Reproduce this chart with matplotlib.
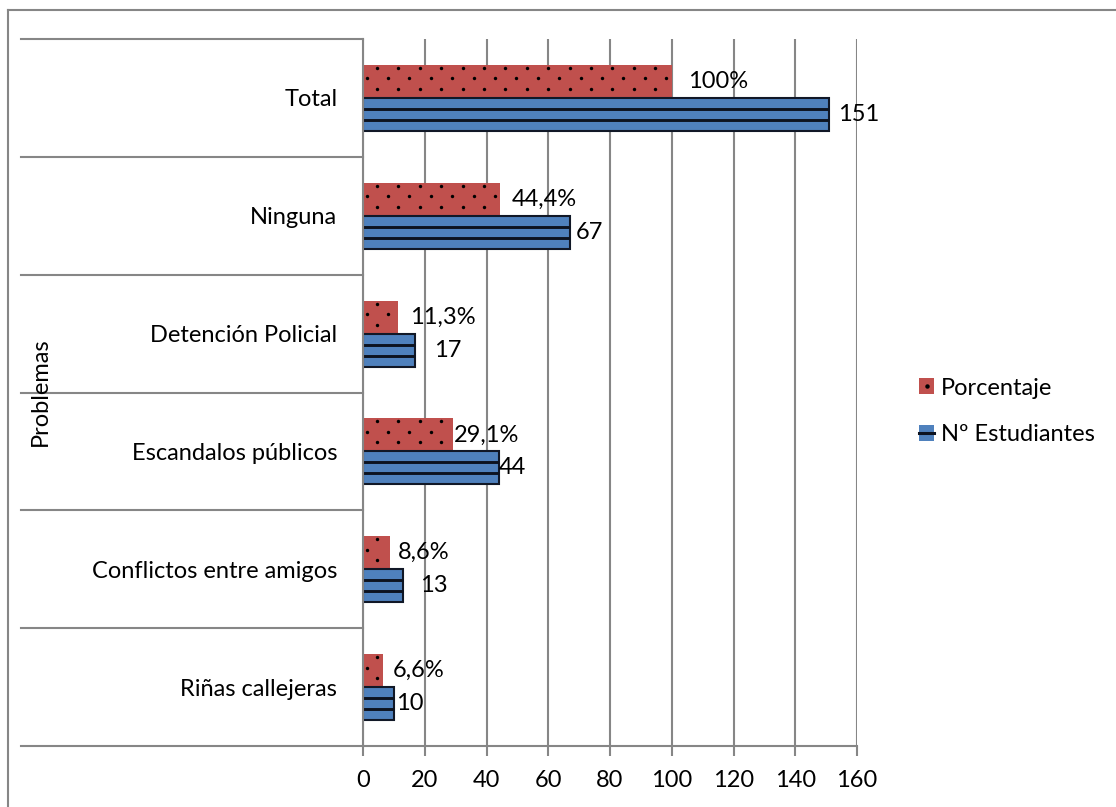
import numpy as np
import matplotlib
matplotlib.use("Agg")
import matplotlib.pyplot as plt
import matplotlib.transforms as mtransforms
from matplotlib.lines import Line2D
from matplotlib.patches import Patch
from matplotlib.legend_handler import HandlerTuple

# ---- data ----
categories = ["Riñas callejeras", "Conflictos entre amigos", "Escandalos públicos",
              "Detención Policial", "Ninguna", "Total"]
porcentaje = [6.6, 8.6, 29.1, 11.3, 44.4, 100]
estudiantes = [10, 13, 44, 17, 67, 151]
x_ticks = [0, 20, 40, 60, 80, 100, 120, 140, 160]
series_names = ["Porcentaje", "Nº Estudiantes"]
axis_title = "Problemas"

# small horizontal nudges (points) for the value labels
pct_nudge = [6.5, 5.8, 0.7, 8.6, 8.6, 11.5]
est_nudge = [1.4, 12.2, 0.0, 13.0, 4.3, 6.5]

RED = "#C0504D"
BLUE = "#4F81BD"
GRAY = "#868686"
STRIPE = "#0d1320"
FONT = ["Lato", "DejaVu Sans"]
FS = 17

plt.rcParams["font.family"] = FONT

W, H = 1116, 807
fig = plt.figure(figsize=(W / 100, H / 100), dpi=100)
ax_l, ax_r, ax_t, ax_b = 363, 857, 39, 746
ax = fig.add_axes([ax_l / W, 1 - ax_b / H, (ax_r - ax_l) / W, (ax_b - ax_t) / H])

n = len(categories)
yc = np.arange(n) + 0.5
h = 0.28

ax.set_xlim(0, 160)
ax.set_ylim(0, n)

# bars
ax.barh(yc + h / 2, porcentaje, height=h, color=RED, linewidth=0, zorder=2)
ax.barh(yc - h / 2, estudiantes, height=h, color=BLUE, edgecolor="#111827",
        linewidth=1.5, zorder=2)

# pixel-to-data scale, used for the bar textures
px_x = 160 / (ax_r - ax_l)
px_y = n / (ax_b - ax_t)

# dotted texture on the percentage bars
for y, v in zip(yc, porcentaje):
    top = y + h
    for r, dy in enumerate([3, 13.5, 24]):
        x0 = 14 if r % 2 == 0 else 3.5
        xs = np.arange(x0, v / px_x - 2, 21.4) * px_x
        ax.scatter(xs, np.full_like(xs, top - dy * px_y), s=6, c="black",
                   marker="o", linewidths=0, zorder=3)

# striped texture on the student bars
for y, v in zip(yc, estudiantes):
    for f in (1 / 6, -1 / 6):
        ax.plot([0, v], [y - h / 2 + f * h] * 2, color=STRIPE, lw=2.1,
                solid_capstyle="butt", zorder=3)

# value labels
for y, v, d in zip(yc, porcentaje, pct_nudge):
    lab = f"{v:g}".replace(".", ",") + "%"
    ax.annotate(lab, (v, y + h / 2), xytext=(d, 0), textcoords="offset points",
                ha="left", va="center", fontsize=FS, color="black", zorder=4)
for y, v, d in zip(yc, estudiantes, est_nudge):
    ax.annotate(f"{v}", (v, y - h / 2), xytext=(d, 0), textcoords="offset points",
                ha="left", va="center", fontsize=FS, color="black", zorder=4)

# axes styling
for s in ("top", "right"):
    ax.spines[s].set_visible(False)
for s in ("left", "bottom"):
    ax.spines[s].set_color(GRAY)
    ax.spines[s].set_linewidth(1.5)
    ax.spines[s].set_zorder(5)
ax.set_xticks(x_ticks)
ax.set_xticklabels([str(t) for t in x_ticks])
ax.tick_params(axis="x", length=7.2, width=1.5, color=GRAY, labelsize=FS, pad=10)
ax.set_yticks(yc)
ax.set_yticklabels(categories)
ax.tick_params(axis="y", length=0, labelsize=FS, pad=18.5)
ax.grid(axis="x", color=GRAY, lw=1.5, zorder=0)
ax.set_axisbelow(True)

# category separators extending left of the plot
trans = mtransforms.blended_transform_factory(ax.transAxes, ax.transData)
left_ext = (21 - ax_l) / (ax_r - ax_l)
for yb in range(n + 1):
    ax.add_line(Line2D([left_ext, 0], [yb, yb], transform=trans, color=GRAY,
                       lw=1.5, clip_on=False, zorder=1))

# axis title
fig.text(40 / W, 1 - 392 / H, axis_title, rotation=90, ha="center", va="center",
         fontsize=FS)

# outer chart border (left and top edges)
fig.add_artist(Line2D([7.5 / W, 7.5 / W], [0, 1 - 9.5 / H], transform=fig.transFigure,
                      color=GRAY, lw=1.5))
fig.add_artist(Line2D([7.5 / W, 1], [1 - 9.5 / H, 1 - 9.5 / H], transform=fig.transFigure,
                      color=GRAY, lw=1.5))

# legend
h_red = (Patch(facecolor=RED, edgecolor="none"),
         Line2D([], [], marker="o", color="black", markersize=2.2, lw=0))
h_blue = (Patch(facecolor=BLUE, edgecolor="none"),
          Line2D([], [], color=STRIPE, lw=2.2))
fig.legend([h_red, h_blue], series_names,
           handler_map={tuple: HandlerTuple(ndivide=1, pad=0)},
           loc="center left", bbox_to_anchor=(919 / W, 1 - 411.5 / H),
           frameon=False, fontsize=FS, handlelength=0.64, handleheight=0.64,
           handletextpad=0.3, labelspacing=1.1, borderpad=0, borderaxespad=0)

fig.savefig("out.png", dpi=100)
